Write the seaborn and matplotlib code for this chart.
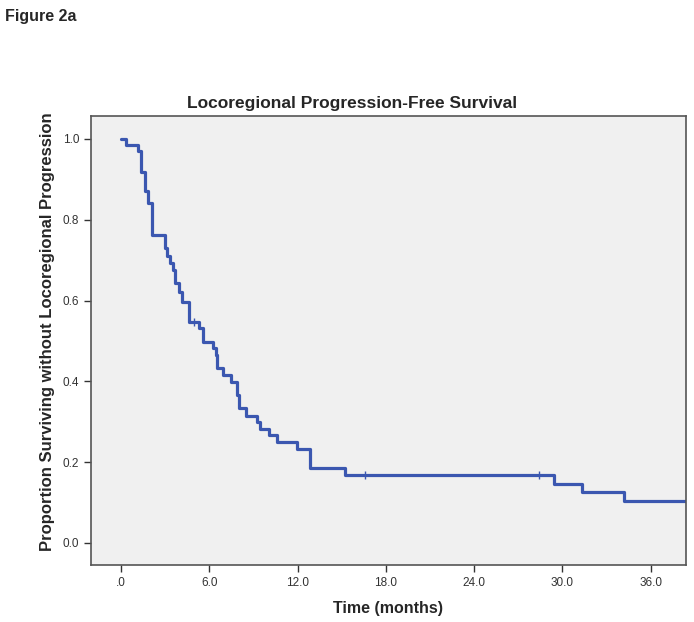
import matplotlib
matplotlib.use("Agg")
import matplotlib.pyplot as plt
import seaborn as sns
import pandas as pd

# Kaplan-Meier steps (months, proportion)
step_time = [0.0, 0.32, 1.13, 1.36, 1.63, 1.86, 2.08, 3.0, 3.15, 3.33, 3.51, 3.67,
             3.96, 4.12, 4.64, 5.31, 5.59, 6.23, 6.43, 6.54, 6.95, 7.47, 7.90,
             8.04, 8.47, 9.22, 9.44, 10.05, 10.58, 11.98, 12.84, 15.20, 29.4,
             31.3, 34.2, 39.0]
step_surv = [1.0, 0.985, 0.969, 0.919, 0.870, 0.841, 0.761, 0.730, 0.709, 0.692,
             0.676, 0.644, 0.622, 0.597, 0.548, 0.531, 0.498, 0.482, 0.465, 0.432,
             0.416, 0.399, 0.366, 0.333, 0.315, 0.299, 0.282, 0.266, 0.249, 0.233,
             0.185, 0.167, 0.146, 0.125, 0.104, 0.104]
censor_time = [4.98, 16.6, 28.4]
censor_surv = [0.548, 0.167, 0.167]

xticks = [0, 6, 12, 18, 24, 30, 36]
xtick_labels = [".0", "6.0", "12.0", "18.0", "24.0", "30.0", "36.0"]
yticks = [0.0, 0.2, 0.4, 0.6, 0.8, 1.0]
ytick_labels = ["0.0", "0.2", "0.4", "0.6", "0.8", "1.0"]

km = pd.DataFrame({"time": step_time, "surv": step_surv})
cens = pd.DataFrame({"time": censor_time, "surv": censor_surv})

sns.set_style("ticks")
plt.rcParams["font.family"] = ["Liberation Sans", "DejaVu Sans"]

fig = plt.figure(figsize=(6.94, 6.22), dpi=100)
ax = fig.add_axes([0.131, 0.0916, 0.8575, 0.722])
ax.set_facecolor("#f0f0f0")

line_col = "#3b57b0"
sns.lineplot(data=km, x="time", y="surv", ax=ax, drawstyle="steps-post",
             estimator=None, sort=False, color=line_col, linewidth=2.3)
sns.scatterplot(data=cens, x="time", y="surv", ax=ax, marker="|", s=40,
                color=line_col, linewidth=1.0)

ax.set_xlim(-2.04, 38.4)
ax.set_ylim(-0.055, 1.057)
ax.set_xticks(xticks)
ax.set_xticklabels(xtick_labels)
ax.set_yticks(yticks)
ax.set_yticklabels(ytick_labels)
ax.tick_params(axis="both", direction="out", length=5, width=1, color="#333333",
               labelsize=8.5, labelcolor="#333333")
for sp in ax.spines.values():
    sp.set_visible(True)
    sp.set_color("#555555")
    sp.set_linewidth(1.2)

ax.set_xlabel("Time (months)", fontsize=11.5, fontweight="bold", labelpad=9)
ax.set_ylabel("Proportion Surviving without Locoregional Progression",
              fontsize=12, fontweight="bold")
ax.yaxis.set_label_coords(-0.06, 0.52)

fig.text(0.507, 0.834, "Locoregional Progression-Free Survival", ha="center",
         va="center", fontsize=12.5, fontweight="bold")
fig.text(0.007, 0.973, "Figure 2a", ha="left", va="center", fontsize=11.5,
         fontweight="bold")

fig.savefig("out.png", dpi=100, facecolor="white")
